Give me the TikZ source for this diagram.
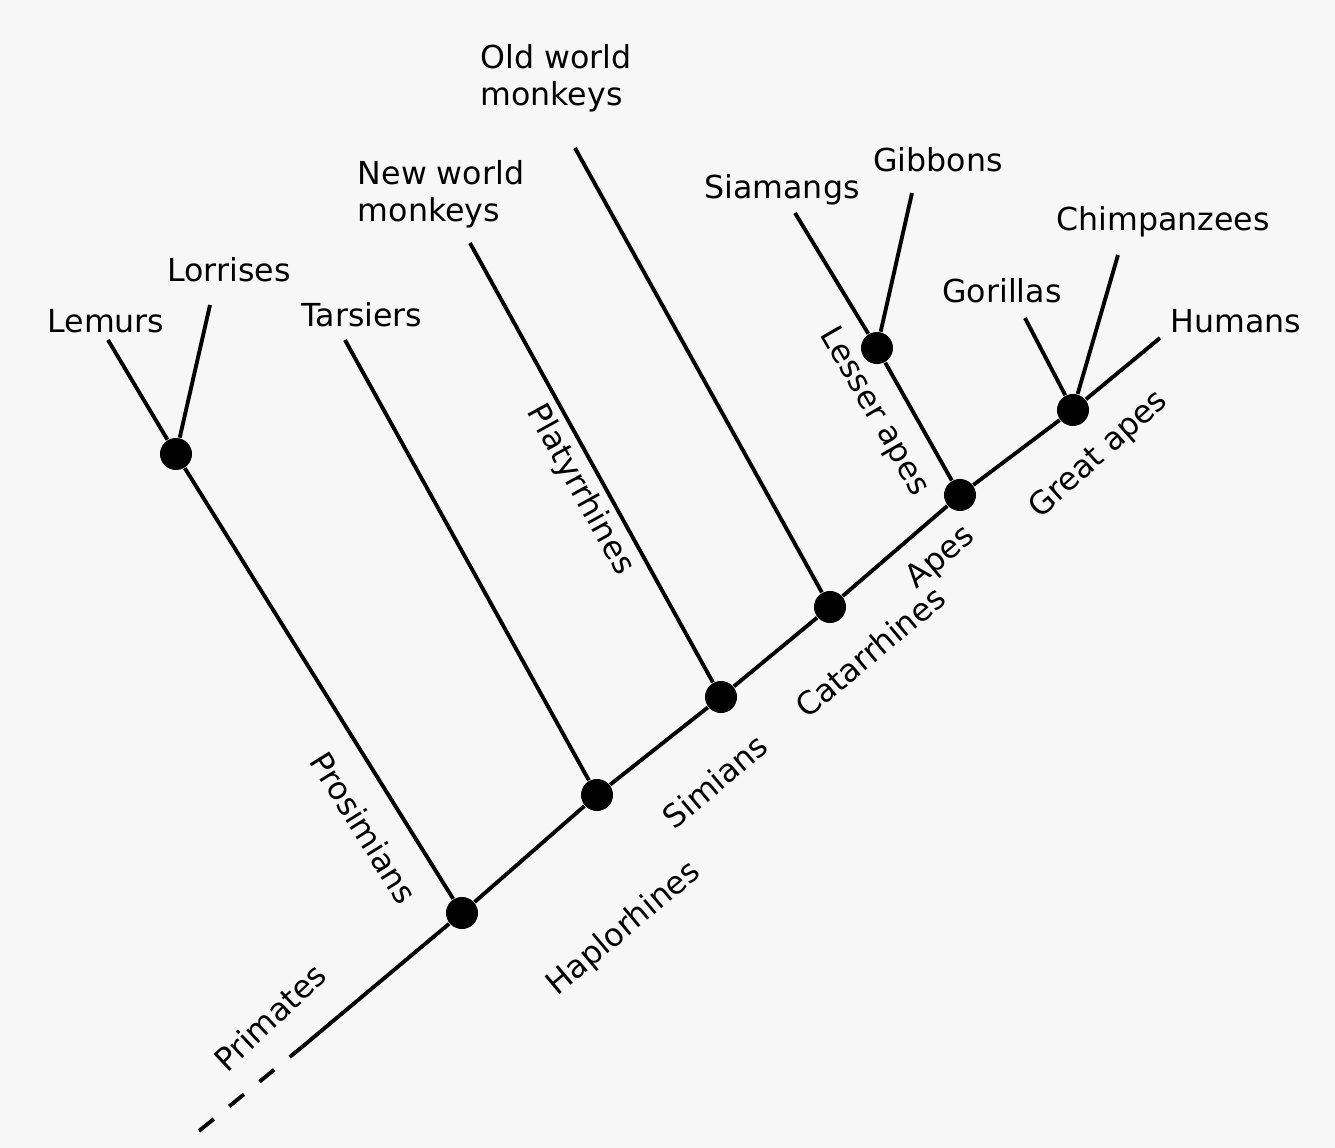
\documentclass[tikz,border=0pt]{standalone}
\usepackage{fontspec}
\setmainfont{DejaVu Sans}
\usetikzlibrary{calc}

\begin{document}
\begin{tikzpicture}[x=0.01cm,y=-0.01cm,
  branch/.style={line width=1.1pt},
  junction/.style={circle,fill=black,inner sep=0pt,minimum size=0.32cm},
  taxon/.style={font=\fontsize{9}{10.5}\selectfont,inner sep=1pt,align=left},
  clade/.style={taxon,rotate=40},
  subclade/.style={taxon,rotate=-60}]
\fill[black!3] (0,0) rectangle (1335,1148);

%junctions along the trunk
\coordinate (root) at (199,1131);
\coordinate (trunk) at (302,1047);
\node[junction] (primates) at (462,913) {};
\node[junction] (haplo) at (597,795) {};
\node[junction] (simians) at (721,697) {};
\node[junction] (catarr) at (830,607) {};
\node[junction] (apes) at (960,495) {};
\node[junction] (great) at (1073,410) {};
\node[junction] (prosim) at (176,454) {};
\node[junction] (lesser) at (877,348) {};

%free ends of the branches
\coordinate (lemurs-end) at (108,340);
\coordinate (lorrises-end) at (210,305);
\coordinate (tarsiers-end) at (345,340);
\coordinate (nwm-end) at (470,243);
\coordinate (owm-end) at (575,148);
\coordinate (siamangs-end) at (795,213);
\coordinate (gibbons-end) at (912,193);
\coordinate (gorillas-end) at (1025,318);
\coordinate (chimps-end) at (1118,255);
\coordinate (humans-end) at (1160,338);

\draw[branch,dash pattern=on 0.19cm off 0.2cm] (root) -- (trunk);
\draw[branch] (trunk) -- (primates) -- (haplo) -- (simians) -- (catarr) -- (apes) -- (great) -- (humans-end);
\draw[branch] (primates) -- (prosim) -- (lemurs-end);
\draw[branch] (prosim) -- (lorrises-end);
\draw[branch] (haplo) -- (tarsiers-end);
\draw[branch] (simians) -- (nwm-end);
\draw[branch] (catarr) -- (owm-end);
\draw[branch] (apes) -- (lesser) -- (siamangs-end);
\draw[branch] (lesser) -- (gibbons-end);
\draw[branch] (great) -- (gorillas-end);
\draw[branch] (great) -- (chimps-end);

%names at the tips
\node[taxon] (lemurs) at (106,321) {Lemurs};
\node[taxon] (lorrises) at (229,270) {Lorrises};
\node[taxon] (tarsiers) at (362,315) {Tarsiers};
\node[taxon] (nwm) at (441,194) {New world\\monkeys};
\node[taxon] (owm) at (556,78) {Old world\\monkeys};
\node[taxon] (siamangs) at (782,190) {Siamangs};
\node[taxon] (gibbons) at (938,160) {Gibbons};
\node[taxon] (gorillas) at (1002,291) {Gorillas};
\node[taxon] (chimps) at (1163,222) {Chimpanzees};
\node[taxon] (humans) at (1236,321) {Humans};

%group names
\node[subclade,rotate=2] (prosimians) at (364,828) {Prosimians};
\node[subclade,rotate=-1] (platyrrhines) at (580,490) {Platyrrhines};
\node[subclade] (lesserapes) at (874,412) {Lesser apes};
\node[clade,rotate=3] (primates-lbl) at (270,1017) {Primates};
\node[clade] (haplorhines) at (624,929) {Haplorhines};
\node[clade] (simians-lbl) at (715,781) {Simians};
\node[clade] (catarrhines) at (870,652) {Catarrhines};
\node[clade] (apes-lbl) at (941,558) {Apes};
\node[clade,rotate=2] (greatapes) at (1099,455) {Great apes};
\end{tikzpicture}
\end{document}
